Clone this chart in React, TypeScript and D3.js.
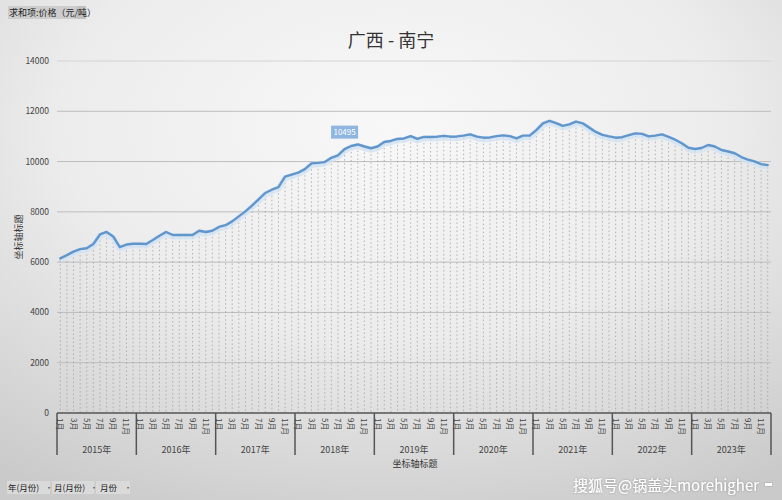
import React from "react";
import * as d3 from "d3";

const years = ["2015年", "2016年", "2017年", "2018年", "2019年", "2020年", "2021年", "2022年", "2023年"];
const months = ["1月", "2月", "3月", "4月", "5月", "6月", "7月", "8月", "9月", "10月", "11月", "12月"];
const prices2015 = [6150, 6280, 6420, 6520, 6550, 6720, 7100, 7200, 7020, 6600, 6700, 6730];
const prices2016 = [6730, 6720, 6880, 7050, 7200, 7080, 7080, 7080, 7080, 7250, 7200, 7250];
const prices2017 = [7400, 7470, 7620, 7820, 8020, 8250, 8500, 8750, 8880, 8980, 9400, 9480];
const prices2018 = [9560, 9700, 9930, 9950, 9980, 10150, 10250, 10495, 10620, 10680, 10600, 10530];
const prices2019 = [10600, 10780, 10820, 10900, 10920, 11010, 10900, 10980, 10980, 10990, 11020, 10990];
const prices2020 = [11000, 11030, 11080, 10990, 10950, 10960, 11010, 11040, 11010, 10920, 11030, 11030];
const prices2021 = [11250, 11520, 11620, 11530, 11420, 11480, 11590, 11520, 11350, 11180, 11060, 11000];
const prices2022 = [10950, 10970, 11050, 11120, 11100, 11000, 11030, 11080, 10980, 10870, 10730, 10550];
const prices2023 = [10500, 10540, 10660, 10600, 10460, 10400, 10330, 10180, 10080, 10010, 9900, 9860];
const yTicks = [0, 2000, 4000, 6000, 8000, 10000, 12000, 14000];
const labelValue = 10495;

const allYears = [prices2015, prices2016, prices2017, prices2018, prices2019, prices2020, prices2021, prices2022, prices2023];

type Pt = { key: string; year: number; month: number; value: number };
const data: Pt[] = [];
allYears.forEach((arr, yi) =>
  arr.forEach((v, mi) => data.push({ key: `${yi}-${mi}`, year: yi, month: mi, value: v }))
);

const FONT = "'Noto Sans CJK SC', 'Noto Sans', sans-serif";

export default function App() {
  const W = 782, H = 500;
  const left = 57, right = 771, top = 61, bottom = 413;
  const x = d3.scaleBand<string>().domain(data.map((d) => d.key)).range([left, right]).padding(0);
  const y = d3.scaleLinear().domain([0, 14000]).range([bottom, top]);
  const cx = (d: Pt) => (x(d.key) as number) + x.bandwidth() / 2;
  const line = d3.line<Pt>().x(cx).y((d) => y(d.value));
  const path = line(data) || "";
  const yearW = (right - left) / years.length;
  const labelPt = data.find((d) => d.value === labelValue)!;

  return (
    <svg width={W} height={H} style={{ position: "absolute", left: 0, top: 0, fontFamily: FONT }}>
      <defs>
        <radialGradient id="bg" cx="50%" cy="25%" r="85%">
          <stop offset="0%" stopColor="#f8f8f8" />
          <stop offset="50%" stopColor="#ececec" />
          <stop offset="100%" stopColor="#cacaca" />
        </radialGradient>
        <filter id="wm" x="-10%" y="-30%" width="120%" height="160%">
          <feDropShadow dx="0" dy="0" stdDeviation="1" floodColor="#000" floodOpacity="0.3" />
        </filter>
      </defs>
      <rect x={0} y={0} width={W} height={H} fill="url(#bg)" />

      {/* top-left field button */}
      <rect x={8} y={6} width={78} height={13} fill="#cdcdcd" />
      <rect x={77} y={6} width={9} height={13} fill="#c0c0c0" />
      <text x={9} y={16} fontSize={9} fill="#222">求和项:价格（元/吨）</text>

      {/* title */}
      <text x={391} y={47} textAnchor="middle" fontSize={18} fill="#333">广西 - 南宁</text>

      {/* grid lines */}
      {yTicks.map((t) => (
        <g key={t}>
          {t > 0 && (
            <line x1={left} x2={right} y1={y(t)} y2={y(t)} stroke={t === 14000 ? "#d4d4d4" : "#bdbdbd"} strokeWidth={1} />
          )}
          <text x={49} y={y(t) + 3} textAnchor="end" fontSize={8.5} fill="#444">{t}</text>
        </g>
      ))}

      {/* drop lines */}
      {data.map((d) => (
        <line key={d.key} x1={cx(d)} x2={cx(d)} y1={y(d.value) + 2} y2={bottom} stroke="#9a9a9a" strokeWidth={0.7} strokeDasharray="1.5,2.5" />
      ))}

      {/* line with glow */}
      <path d={path} fill="none" stroke="#d2e2f2" strokeWidth={6} strokeOpacity={0.8} strokeLinejoin="round" transform="translate(0,1.5)" />
      <path d={path} fill="none" stroke="#6096cc" strokeWidth={2.4} strokeLinejoin="round" strokeLinecap="round" />

      {/* data label */}
      <g transform={`translate(${cx(labelPt)},${y(labelPt.value) - 17})`}>
        <rect x={-13.5} y={-6.5} width={27} height={13} fill="#8eb6e0" />
        <text x={0} y={3} textAnchor="middle" fontSize={8} fill="#fff">{labelValue}</text>
      </g>

      {/* x axis */}
      <line x1={left} x2={right} y1={bottom} y2={bottom} stroke="#555" strokeWidth={1.5} />
      {d3.range(years.length + 1).map((i) => (
        <line key={i} x1={left + i * yearW} x2={left + i * yearW} y1={bottom} y2={455} stroke="#555" strokeWidth={1.5} />
      ))}
      {data
        .filter((d) => d.month % 2 === 0)
        .map((d) => (
          <text key={d.key} transform={`translate(${cx(d) - 3},${418}) rotate(90)`} fontSize={8} fill="#444">
            {months[d.month]}
          </text>
        ))}
      {years.map((yr, i) => (
        <text key={yr} x={left + (i + 0.5) * yearW} y={453} textAnchor="middle" fontSize={9} fill="#444">{yr}</text>
      ))}
      <text x={415} y={467} textAnchor="middle" fontSize={9} fill="#333">坐标轴标题</text>
      <text transform={`translate(22,237) rotate(-90)`} textAnchor="middle" fontSize={9} fill="#333">坐标轴标题</text>

      {/* bottom-left field buttons */}
      <rect x={7} y={481} width={43} height={13} fill="#dadada" />
      <text x={8} y={491} fontSize={8.5} fill="#222">年(月份)</text>
      <text x={45} y={491} fontSize={8} fill="#555">·</text>
      <rect x={52} y={481} width={42} height={13} fill="#dadada" />
      <text x={54} y={491} fontSize={8.5} fill="#222">月(月份)</text>
      <text x={90} y={491} fontSize={8} fill="#555">·</text>
      <rect x={96} y={481} width={34} height={13} fill="#dadada" />
      <text x={100} y={491} fontSize={8.5} fill="#222">月份</text>
      <text x={124} y={491} fontSize={8} fill="#555">·</text>

      {/* watermark */}
      <text x={573} y={491} fontSize={15} fill="#ffffff" filter="url(#wm)">搜狐号@锅盖头morehigher</text>
      <rect x={765} y={483} width={7} height={3} fill="#ffffff" filter="url(#wm)" />
    </svg>
  );
}
